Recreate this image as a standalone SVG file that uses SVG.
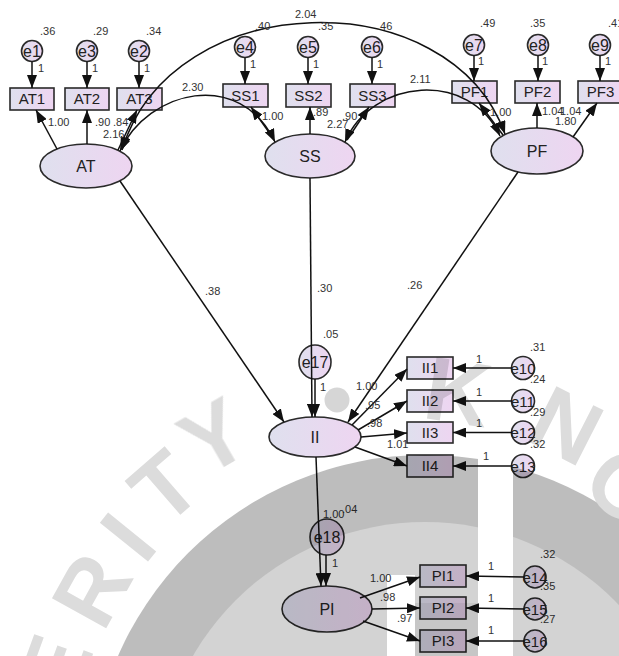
<svg xmlns="http://www.w3.org/2000/svg" width="619" height="656" viewBox="0 0 619 656">
<defs>
<linearGradient id="nf" x1="0" y1="0" x2="1" y2="0"><stop offset="0" stop-color="#dfe0ee"/><stop offset="1" stop-color="#eed5f1"/></linearGradient>
<marker id="ah" viewBox="0 0 13 10" markerWidth="13" markerHeight="10" refX="13" refY="5" orient="auto-start-reverse" markerUnits="userSpaceOnUse"><path d="M0,0 L13,5 L0,10 z" fill="#111"/></marker>
</defs>
<style>
.nd{fill:url(#nf);stroke:#2a2a2a;stroke-width:1.6}
.ln{fill:none;stroke:#111;stroke-width:1.5}
.a{marker-end:url(#ah)}
.d{marker-start:url(#ah);marker-end:url(#ah)}
text{font-family:"Liberation Sans",Arial,sans-serif}
.t{font-size:15px;fill:#222;text-anchor:middle}
.tl{font-size:16px;fill:#222;text-anchor:middle}
.te{font-size:16px;fill:#222;text-anchor:middle}
.n{font-size:11px;fill:#333}
.wl{font-size:90px;font-weight:bold;fill:#dcdcdc;text-anchor:middle;dominant-baseline:central}
</style>
<rect x="0" y="0" width="619" height="656" fill="#ffffff"/>

<g id="nodes">
<g id="e1"><circle class="nd" cx="32" cy="51" r="10.5"/><text class="te" x="32" y="57">e1</text></g>
<g id="e3"><circle class="nd" cx="87" cy="51" r="10.5"/><text class="te" x="87" y="57">e3</text></g>
<g id="e2"><circle class="nd" cx="139" cy="51" r="10.5"/><text class="te" x="139" y="57">e2</text></g>
<g id="e4"><circle class="nd" cx="245" cy="47" r="10.5"/><text class="te" x="245" y="53">e4</text></g>
<g id="e5"><circle class="nd" cx="308" cy="47" r="10.5"/><text class="te" x="308" y="53">e5</text></g>
<g id="e6"><circle class="nd" cx="372" cy="47" r="10.5"/><text class="te" x="372" y="53">e6</text></g>
<g id="e7"><circle class="nd" cx="474" cy="45" r="10.5"/><text class="te" x="474" y="51">e7</text></g>
<g id="e8"><circle class="nd" cx="538" cy="45" r="10.5"/><text class="te" x="538" y="51">e8</text></g>
<g id="e9"><circle class="nd" cx="600" cy="45" r="10.5"/><text class="te" x="600" y="51">e9</text></g>

<g id="AT1"><rect class="nd" x="10" y="88" width="44" height="22"/><text class="t" x="32" y="104">AT1</text></g>
<g id="AT2"><rect class="nd" x="65" y="88" width="44" height="22"/><text class="t" x="87" y="104">AT2</text></g>
<g id="AT3"><rect class="nd" x="117" y="88" width="45" height="22"/><text class="t" x="139.5" y="104">AT3</text></g>
<g id="SS1"><rect class="nd" x="223" y="84" width="45" height="23"/><text class="t" x="245.5" y="101">SS1</text></g>
<g id="SS2"><rect class="nd" x="286" y="84" width="45" height="23"/><text class="t" x="308.5" y="101">SS2</text></g>
<g id="SS3"><rect class="nd" x="350" y="84" width="45" height="23"/><text class="t" x="372.5" y="101">SS3</text></g>
<g id="PF1"><rect class="nd" x="452" y="81" width="45" height="22"/><text class="t" x="474.5" y="97">PF1</text></g>
<g id="PF2"><rect class="nd" x="515" y="81" width="45" height="22"/><text class="t" x="537.5" y="97">PF2</text></g>
<g id="PF3"><rect class="nd" x="578" y="81" width="45" height="22"/><text class="t" x="600.5" y="97">PF3</text></g>

<g id="AT"><ellipse class="nd" cx="86" cy="166" rx="46" ry="22"/><text class="tl" x="86" y="172">AT</text></g>
<g id="SS"><ellipse class="nd" cx="310" cy="156" rx="45" ry="22"/><text class="tl" x="310" y="162">SS</text></g>
<g id="PF"><ellipse class="nd" cx="537" cy="151" rx="46" ry="23"/><text class="tl" x="537" y="157">PF</text></g>

<g id="e17"><ellipse class="nd" cx="315" cy="362" rx="16" ry="17"/><text class="te" x="315" y="368">e17</text></g>
<g id="II"><ellipse class="nd" cx="315" cy="437" rx="46" ry="20"/><text class="tl" x="315" y="443">II</text></g>
<g id="II1"><rect class="nd" x="407" y="357" width="46" height="22"/><text class="t" x="430" y="373">II1</text></g>
<g id="II2"><rect class="nd" x="407" y="390" width="46" height="22"/><text class="t" x="430" y="406">II2</text></g>
<g id="II3"><rect class="nd" x="407" y="422" width="46" height="21"/><text class="t" x="430" y="438">II3</text></g>
<g id="II4"><rect class="nd" x="407" y="455" width="46" height="22"/><text class="t" x="430" y="471">II4</text></g>
<g id="e10"><circle class="nd" cx="523" cy="368" r="11.5"/><text class="t" x="523" y="374">e10</text></g>
<g id="e11"><circle class="nd" cx="523" cy="401" r="11.5"/><text class="t" x="523" y="407">e11</text></g>
<g id="e12"><circle class="nd" cx="523" cy="432.5" r="11.5"/><text class="t" x="523" y="438">e12</text></g>
<g id="e13"><circle class="nd" cx="523" cy="466" r="11.5"/><text class="t" x="523" y="472">e13</text></g>

<g id="e18"><ellipse class="nd" cx="327" cy="537" rx="17" ry="18"/><text class="te" x="327" y="543">e18</text></g>
<g id="PI"><ellipse class="nd" cx="327" cy="609" rx="45" ry="23"/><text class="tl" x="327" y="615">PI</text></g>
<g id="PI1"><rect class="nd" x="420" y="565" width="46" height="22"/><text class="t" x="443" y="581">PI1</text></g>
<g id="PI2"><rect class="nd" x="420" y="597" width="46" height="22"/><text class="t" x="443" y="613">PI2</text></g>
<g id="PI3"><rect class="nd" x="420" y="630" width="46" height="22"/><text class="t" x="443" y="646">PI3</text></g>
<g id="e14"><circle class="nd" cx="535" cy="577" r="11"/><text class="t" x="535" y="583">e14</text></g>
<g id="e15"><circle class="nd" cx="535" cy="609" r="11"/><text class="t" x="535" y="615">e15</text></g>
<g id="e16"><circle class="nd" cx="535" cy="641" r="11"/><text class="t" x="535" y="647">e16</text></g>
</g>

<g id="connectors" class="ln">
<path class="a" d="M32,61.5 L32,88"/>
<path class="a" d="M87,61.5 L87,88"/>
<path class="a" d="M139,61.5 L139,88"/>
<path class="a" d="M245,57.5 L245,84"/>
<path class="a" d="M308,57.5 L308,84"/>
<path class="a" d="M372,57.5 L372,84"/>
<path class="a" d="M474,55.5 L474,81"/>
<path class="a" d="M538,55.5 L538,81"/>
<path class="a" d="M600,55.5 L600,81"/>
<path class="a" d="M57,149 L36,110"/>
<path class="a" d="M87,144 L87,110"/>
<path class="a" d="M118,150 L137,110"/>
<path class="a" d="M273,138 L251,107"/>
<path class="a" d="M310,134 L310,107"/>
<path class="a" d="M347,140 L369,107"/>
<path class="a" d="M503,135 L479,103"/>
<path class="a" d="M537,128 L537,103"/>
<path class="a" d="M573,137 L597,103"/>
<path class="d" d="M120,151 C148,90 240,68 275,142"/>
<path class="d" d="M122,150 C172,-14 450,-20 505,134"/>
<path class="d" d="M345,142 C372,78 470,70 500,136"/>
<path class="a" d="M120,181 L284,422"/>
<path class="a" d="M310,178 L312,417"/>
<path class="a" d="M518,172 L348,422"/>
<path class="a" d="M315,379 L315,417"/>
<path class="a" d="M352,425 L407,369"/>
<path class="a" d="M358,430 L407,401"/>
<path class="a" d="M361,437 L407,433"/>
<path class="a" d="M355,447 L407,466"/>
<path class="a" d="M512,368 L453,368"/>
<path class="a" d="M512,401 L453,401"/>
<path class="a" d="M512,432.5 L453,432.5"/>
<path class="a" d="M512,466 L453,466"/>
<path class="a" d="M316,457 L321,586"/>
<path class="a" d="M326,555 L326,586"/>
<path class="a" d="M360,598 L420,577"/>
<path class="a" d="M372,609 L420,608"/>
<path class="a" d="M363,621 L420,641"/>
<path class="a" d="M524,577 L466,576"/>
<path class="a" d="M524,609 L466,608"/>
<path class="a" d="M524,641 L466,641"/>
</g>

<g id="labels" class="n">
<text x="40" y="35">.36</text><text x="93" y="35">.29</text><text x="146" y="35">.34</text>
<text x="255" y="30">.40</text><text x="318" y="30">.35</text><text x="377" y="30">.46</text>
<text x="295" y="18">2.04</text>
<text x="480" y="27">.49</text><text x="530" y="27">.35</text><text x="608" y="27">.41</text>
<text x="38" y="72">1</text><text x="92" y="72">1</text><text x="144" y="72">1</text>
<text x="250" y="68">1</text><text x="313" y="68">1</text><text x="377" y="68">1</text>
<text x="478" y="65">1</text><text x="542" y="65">1</text><text x="605" y="65">1</text>
<text x="48" y="126">1.00</text><text x="95" y="126">.90</text><text x="113" y="126">.84</text><text x="103" y="138">2.16</text>
<text x="182" y="91">2.30</text>
<text x="262" y="120">1.00</text><text x="313" y="116">.89</text><text x="327" y="128">2.27</text><text x="342" y="120">.90</text>
<text x="410" y="83">2.11</text>
<text x="490" y="116">1.00</text><text x="542" y="115">1.04</text><text x="560" y="115">1.04</text><text x="555" y="125">1.80</text>
<text x="205" y="295">.38</text><text x="317" y="292">.30</text><text x="407" y="289">.26</text>
<text x="323" y="338">.05</text><text x="320" y="391">1</text>
<text x="356" y="390">1.00</text><text x="365" y="409">.95</text><text x="367" y="427">.98</text><text x="387" y="448">1.01</text>
<text x="476" y="363">1</text><text x="476" y="396">1</text><text x="476" y="427">1</text><text x="483" y="460">1</text>
<text x="530" y="351">.31</text><text x="530" y="383">.24</text><text x="530" y="416">.29</text><text x="530" y="448">.32</text>
<text x="323" y="518">1.00</text><text x="342" y="513">.04</text><text x="332" y="567">1</text>
<text x="370" y="582">1.00</text><text x="380" y="601">.98</text><text x="397" y="622">.97</text>
<text x="488" y="570">1</text><text x="488" y="602">1</text><text x="488" y="634">1</text>
<text x="540" y="558">.32</text><text x="540" y="590">.35</text><text x="540" y="623">.27</text>
</g>

<g id="watermark" style="mix-blend-mode:multiply">
<circle cx="425" cy="790" r="335" fill="#bdbdbd"/>
<circle cx="425" cy="790" r="268" fill="#d3d3d3"/>
<rect x="415" y="603" width="63" height="53" fill="#c6c6c6"/>
<rect x="478" y="440" width="35" height="216" fill="#ffffff"/>
<rect x="387" y="575" width="28" height="81" fill="#ffffff"/>
<circle cx="337" cy="400" r="12.5" fill="#d6d6d6"/>
<text class="wl" transform="translate(55,668) rotate(-70)">E</text>
<text class="wl" transform="translate(92,590) rotate(-61)">R</text>
<text class="wl" transform="translate(128,537) rotate(-51)">I</text>
<text class="wl" transform="translate(165,487) rotate(-41)">T</text>
<text class="wl" transform="translate(214,437) rotate(-30)">Y</text>
<text class="wl" transform="translate(458,392) rotate(9)">K</text>
<text class="wl" transform="translate(566,426) rotate(27)">N</text>
<text class="wl" transform="translate(625,487) rotate(40)">O</text>
</g>
</svg>
